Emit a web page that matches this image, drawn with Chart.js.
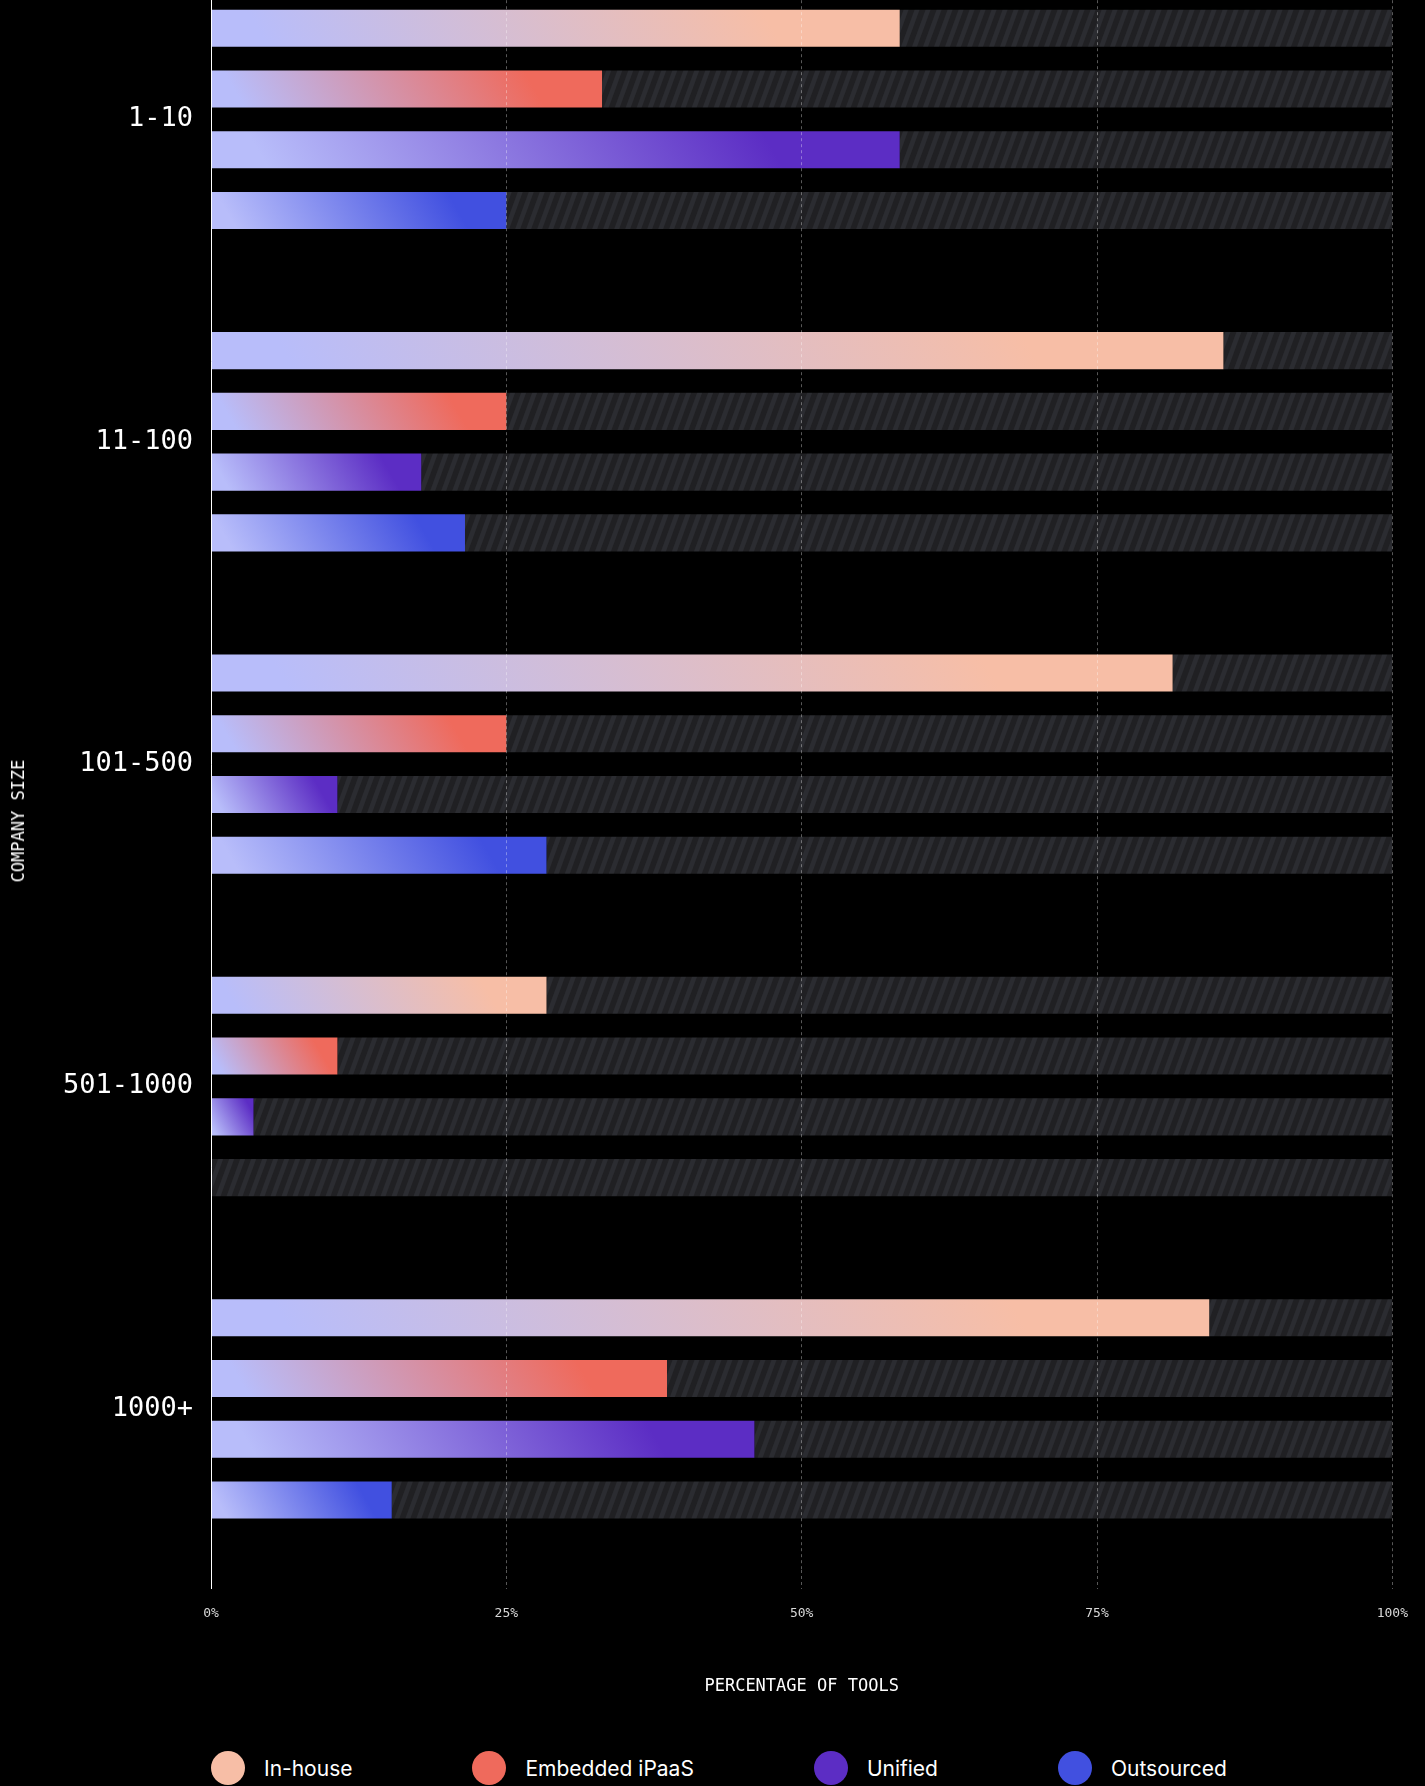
<!DOCTYPE html>
<html>
<head>
<meta charset="utf-8">
<script src="https://cdn.jsdelivr.net/npm/chart.js@4.4.1/dist/chart.umd.min.js"></script>
<style>
  html, body { margin: 0; padding: 0; background: #000; overflow: hidden; }
  #page { position: relative; width: 1425px; height: 1786px; overflow: hidden; background: #000; }
  #wrap { position: absolute; left: 0; top: -76px; width: 1425px; height: 1773px; }
  #ytitle {
    position: absolute; left: 18px; top: 821px;
    transform: translate(-50%, -50%) rotate(-90deg);
    font: 17px "DejaVu Sans Mono", monospace; color: #fff; white-space: nowrap;
  }
  #legend {
    position: absolute; left: 211px; top: 1751px; height: 34px;
    display: flex; gap: 120px; align-items: center;
    font: 21px Inter, "Noto Sans", sans-serif; color: #fff;
  }
  #legend .item { display: flex; align-items: center; gap: 19px; }
  #legend .dot { width: 34px; height: 34px; border-radius: 50%; }
</style>
</head>
<body>
<div id="page">
  <div id="wrap"><canvas id="chart" width="1425" height="1773"></canvas></div>
  <div id="ytitle">COMPANY SIZE</div>
  <div id="legend"></div>
</div>
<script>
// data (percent of tools)
const companySizes = ['1-10', '11-100', '101-500', '501-1000', '1000+'];
const seriesNames = ['In-house', 'Embedded iPaaS', 'Unified', 'Outsourced'];
const inHouse    = [58.3, 85.7, 81.4, 28.4, 84.5];
const embedded   = [33.1, 25.0, 25.0, 10.7, 38.6];
const unified    = [58.3, 17.8, 10.7, 3.6, 46.0];
const outsourced = [25.0, 21.5, 28.4, 0, 15.3];
const xTicks = [0, 25, 50, 75, 100];

const seriesColors = ['#f7bea6', '#ef6a5c', '#5c2dc4', '#4150e0'];
const lavender = '#b8bdfa';
const CAT_PCT = 0.754;
const BAR_PCT = 0.61;

// striped fill for the empty part of each bar
function makeHatch() {
    const c = document.createElement('canvas');
    c.width = 11; c.height = 30;
    const g = c.getContext('2d');
    g.fillStyle = '#202023';
    g.fillRect(0, 0, 11, 30);
    g.fillStyle = '#2b2c31';
    for (let k = -1; k <= 1; k++) {
        const o = k * 11;
        g.beginPath();
        g.moveTo(o, 30); g.lineTo(o + 5, 30); g.lineTo(o + 16, 0); g.lineTo(o + 11, 0);
        g.closePath();
        g.fill();
    }
    return g.createPattern(c, 'repeat');
}
const hatch = makeHatch();

function barGradient(ctx, seriesIdx) {
    const chart = ctx.chart;
    const xs = chart.scales.x, ys = chart.scales.y;
    const color = seriesColors[seriesIdx];
    if (!xs || !ys || !chart.chartArea) return color;
    const v = ctx.raw || 0;
    const x0 = xs.getPixelForValue(0);
    const x1 = xs.getPixelForValue(v);
    const L = Math.max(x1 - x0, 1);
    const catH = (ys.bottom - ys.top) / companySizes.length;
    const groupH = catH * CAT_PCT;
    const slot = groupH / 4;
    const h = slot * BAR_PCT;
    const yc = ys.getPixelForValue(ctx.dataIndex) - groupH / 2 + slot * (seriesIdx + 0.5);
    const yb = yc + h / 2;
    // diagonal: light at bottom-left, full colour towards the right end
    const dx = 0.866, dy = -0.5;
    const tEnd = dx * 0.8 * L + 0.5 * h;
    const g = chart.ctx.createLinearGradient(x0, yb, x0 + dx * tEnd, yb + dy * tEnd);
    g.addColorStop(0, lavender);
    g.addColorStop(0.1, lavender);
    g.addColorStop(1, color);
    return g;
}

const valueSeries = [inHouse, embedded, unified, outsourced];
const datasets = [];
valueSeries.forEach((vals, i) => {
    datasets.push({
        label: seriesNames[i],
        data: vals,
        stack: 's' + i,
        backgroundColor: (ctx) => barGradient(ctx, i),
        borderWidth: 0,
        categoryPercentage: CAT_PCT,
        barPercentage: BAR_PCT
    });
});
valueSeries.forEach((vals, i) => {
    datasets.push({
        label: seriesNames[i] + ' rest',
        data: vals.map(v => 100 - v),
        stack: 's' + i,
        backgroundColor: hatch,
        borderWidth: 0,
        categoryPercentage: CAT_PCT,
        barPercentage: BAR_PCT
    });
});

const mono = '"DejaVu Sans Mono", monospace';

new Chart(document.getElementById('chart'), {
    type: 'bar',
    data: { labels: companySizes, datasets: datasets },
    options: {
        indexAxis: 'y',
        responsive: false,
        animation: false,
        layout: { padding: { top: 0, right: 0, bottom: 0, left: 0 } },
        plugins: {
            legend: { display: false },
            tooltip: { enabled: false }
        },
        scales: {
            x: {
                stacked: true,
                min: 0,
                max: 100,
                afterBuildTicks: (scale) => { scale.ticks = xTicks.map(v => ({ value: v })); },
                ticks: {
                    color: '#d8d8d8',
                    font: { family: mono, size: 13 },
                    padding: 17,
                    maxRotation: 0,
                    callback: (v) => v + '%'
                },
                grid: {
                    z: 1,
                    drawTicks: true,
                    tickLength: 19,
                    color: (c) => c.index === 0 ? '#ffffff' : 'rgba(255,255,255,0.34)',
                    tickColor: (c) => c.index === 0 ? '#ffffff' : 'rgba(255,255,255,0.34)',
                    tickBorderDash: (c) => c.index === 0 ? [] : [3, 3],
                    lineWidth: 1
                },
                border: {
                    display: false,
                    dash: (c) => c.index === 0 ? [] : [3, 3]
                },
                title: {
                    display: true,
                    text: 'PERCENTAGE OF TOOLS',
                    color: '#ffffff',
                    font: { family: mono, size: 17 },
                    padding: { top: 38, bottom: 0 }
                }
            },
            y: {
                afterFit: (scale) => { scale.width = 211; },
                ticks: {
                    color: '#ffffff',
                    font: { family: mono, size: 27 },
                    padding: 18
                },
                grid: { display: false, drawTicks: false },
                border: { display: false }
            }
        }
    }
});

// legend
const legend = document.getElementById('legend');
seriesNames.forEach((name, i) => {
    const item = document.createElement('div');
    item.className = 'item';
    const dot = document.createElement('span');
    dot.className = 'dot';
    dot.style.background = seriesColors[i];
    const txt = document.createElement('span');
    txt.textContent = name;
    item.appendChild(dot);
    item.appendChild(txt);
    legend.appendChild(item);
});
</script>
</body>
</html>
